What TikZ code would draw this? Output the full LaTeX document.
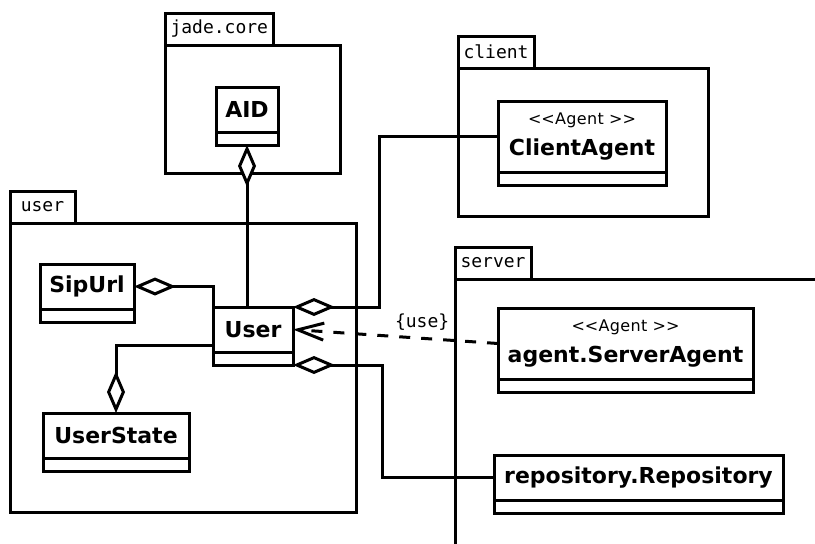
\documentclass[tikz,border=0pt]{standalone}
\usepackage{fontspec}
\setmainfont{DejaVu Sans}
\setmonofont{DejaVu Sans Mono}
\newfontfamily\stereofont[LetterSpace=2]{DejaVu Sans}
\usetikzlibrary{arrows.meta, positioning}

% stereotype line above a class name
\newcommand{\stereo}[1]{{\stereofont\mdseries\fontsize{16}{18}\selectfont <\kern0pt<#1 >\kern0pt>}}

\begin{document}
\begin{tikzpicture}[
    x=1pt, y=-1pt,
    line width=3pt,
    package/.style={rectangle, draw, outer sep=0pt, anchor=north west},
    pkgtab/.style={rectangle, draw, outer sep=0pt, minimum width=65pt, minimum height=32pt, inner xsep=5.5pt, font=\ttfamily\fontsize{18}{20}\selectfont},
    class/.style={rectangle, draw, outer sep=0pt, anchor=north west, minimum height=45pt, align=center, font=\bfseries\fontsize{22}{31}\selectfont},
    aggr/.style={{Diamond[fill=white, length=42pt, width=18pt]}-},
    dep/.style={dash pattern=on 11pt off 11pt, -{Straight Barb[length=26pt, width=17pt]}},
]
\useasboundingbox (0,0) rectangle (815,544);
\clip (0,0) rectangle (815,544);

% Packages
\node (jadecore) [package, minimum width=175pt, minimum height=128pt] at (165,45) {};
\node (jadetab) [pkgtab, above right=0pt and 0pt of jadecore.north west] {jade.core};
\node (userpkg) [package, minimum width=346pt, minimum height=289pt] at (10,223) {};
\node (usertab) [pkgtab, above right=0pt and 0pt of userpkg.north west] {user};
\node (clientpkg) [package, minimum width=250pt, minimum height=148pt] at (458,68) {};
\node (clienttab) [pkgtab, above right=0pt and 0pt of clientpkg.north west] {client};
\node (serverpkg) [package, minimum width=400pt, minimum height=300pt] at (455,279) {};
\node (servertab) [pkgtab, above right=0pt and 0pt of serverpkg.north west] {server};

% Classes
\node (aid) [class, minimum width=62pt] at (216,87) {AID};
\node (sipurl) [class, minimum width=94pt] at (40,264) {SipUrl};
\node (user) [class, minimum width=80pt] at (213,307) {User};
\node (userstate) [class, minimum width=146pt] at (43,413) {UserState};
\node (clientagent) [class, minimum width=168pt, minimum height=71pt] at (498,101) {\stereo{Agent}\\ClientAgent};
\node (serveragent) [class, minimum width=255pt, minimum height=71pt] at (498,308) {\stereo{Agent}\\agent.ServerAgent};
\node (repository) [class, minimum width=289pt] at (494,455) {repository.Repository};

% empty attribute compartments
\foreach \c in {aid, sipurl, user, userstate, clientagent, serveragent, repository}
    \draw (\c.south west) -- ++(0,13) -| (\c.south east);

% Associations
\draw [aggr] ([yshift=-13pt]aid.south) -- (aid.south |- user.north);
\draw [aggr] (sipurl.east) -| (user.north west);
\draw [aggr] (userstate.north) |- ([yshift=-38pt]user.north west);
\draw [aggr] (user.north east) -- ++(86,0) |- (clientagent.west);
\draw [aggr] ([yshift=-13pt]user.south east) -- ++(89,0) |- (repository.west);
\draw [dep] (serveragent.west) -- node[pos=0.37, above=3pt, font=\ttfamily\fontsize{18}{20}\selectfont] {\{use\}} (user.east);

\end{tikzpicture}
\end{document}
